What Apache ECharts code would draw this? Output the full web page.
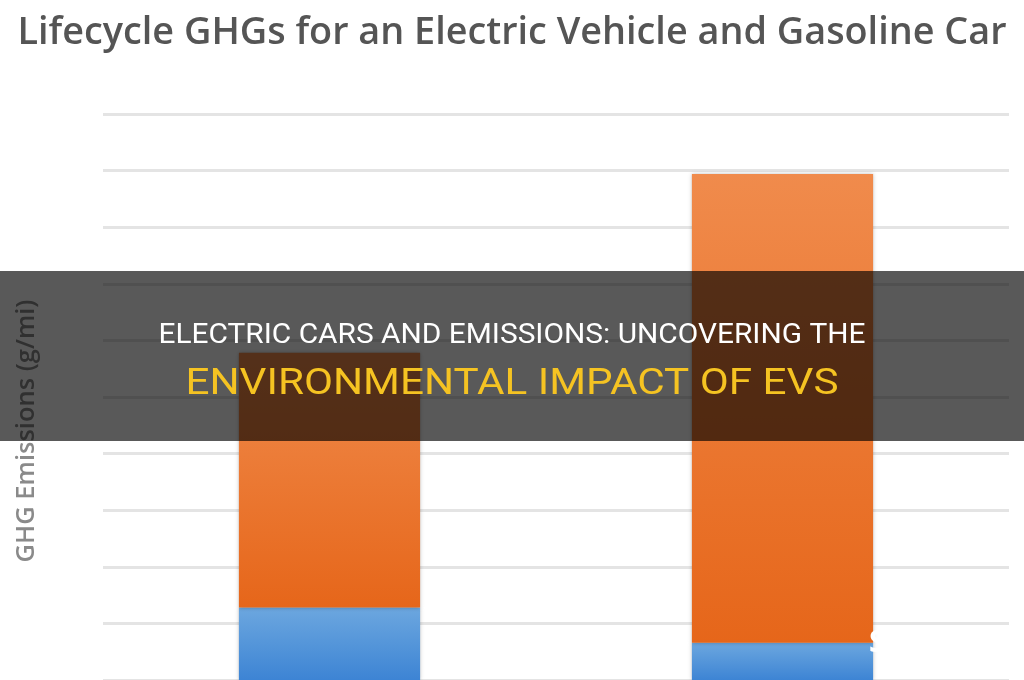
<!DOCTYPE html>
<html>
<head>
<meta charset="utf-8">
<script src="https://cdn.jsdelivr.net/npm/echarts@6/dist/echarts.min.js"></script>
<style>
  html, body { margin: 0; padding: 0; background: #fff; }
  #chart { width: 1024px; height: 680px; }
</style>
</head>
<body>
<div id="chart"></div>
<script>
// values (g/mi), gridline step 50
const categories = ['Electric Vehicle', 'Gasoline Car'];
const manufacturing = [64, 33];
const operation = [225, 414];
const yTicks = [0, 50, 100, 150, 200, 250, 300, 350, 400, 450, 500];

const chart = echarts.init(document.getElementById('chart'));

const grad = (top, bottom) => new echarts.graphic.LinearGradient(0, 0, 0, 1, [
  { offset: 0, color: top },
  { offset: 1, color: bottom }
]);

// fit a line of text to the width it has in the picture
const ctx = document.createElement('canvas').getContext('2d');
function squeeze(text, font, target) {
  ctx.font = font;
  return target / ctx.measureText(text).width;
}
const bannerFont = 'Roboto, "Liberation Sans", sans-serif';
const line1 = 'ELECTRIC CARS AND EMISSIONS: UNCOVERING THE';
const line2 = 'ENVIRONMENTAL IMPACT OF EVS';
const s1 = squeeze(line1, '27px Roboto', 707);
const s2 = squeeze(line2, '36px Roboto', 653);

const titleText = 'Lifecycle GHGs for an Electric Vehicle and Gasoline Car';
const sT = squeeze(titleText, '600 38px "Open Sans"', 989);

const option = {
  animation: false,
  grid: {
    left: 103,
    right: 15,
    top: 114,
    bottom: -4 // the x axis sits just below the visible area
  },
  xAxis: {
    type: 'category',
    data: categories,
    axisLine: { show: false },
    axisTick: { show: false },
    axisLabel: { show: false }
  },
  yAxis: {
    type: 'value',
    min: yTicks[0],
    max: yTicks[yTicks.length - 1],
    interval: 50,
    axisLine: { show: false },
    axisTick: { show: false },
    axisLabel: { show: false },
    splitLine: {
      lineStyle: { color: '#e4e4e4', width: 3 }
    }
  },
  series: [
    {
      name: 'Manufacturing',
      type: 'bar',
      stack: 'ghg',
      barWidth: '40%',
      data: manufacturing,
      itemStyle: {
        color: grad('#6ca7df', '#3d84d4'),
        shadowBlur: 4,
        shadowColor: 'rgba(0,0,0,0.25)'
      }
    },
    {
      name: 'Operation',
      type: 'bar',
      stack: 'ghg',
      barWidth: '40%',
      data: operation,
      itemStyle: {
        color: grad('#f08b4c', '#e6661a'),
        shadowBlur: 4,
        shadowColor: 'rgba(0,0,0,0.25)'
      }
    }
  ],
  graphic: [
    {
      type: 'text',
      z: 1,
      x: 512,
      y: 33,
      scaleX: sT,
      style: {
        text: titleText,
        fontFamily: 'Open Sans',
        fontSize: 38,
        fontWeight: 600,
        fill: '#555',
        align: 'center',
        verticalAlign: 'middle'
      }
    },
    {
      type: 'text',
      z: 1,
      x: 27,
      y: 431,
      rotation: Math.PI / 2,
      style: {
        text: 'GHG Emissions (g/mi)',
        fontFamily: 'Open Sans',
        fontSize: 25.5,
        fontWeight: 600,
        fill: '#8a8a8a',
        align: 'center',
        verticalAlign: 'middle'
      }
    },
    {
      // dark banner over the chart
      type: 'rect',
      z: 10,
      shape: { x: 0, y: 271, width: 1024, height: 170 },
      style: { fill: 'rgba(0,0,0,0.65)' }
    },
    {
      type: 'text',
      z: 11,
      x: 512,
      y: 336,
      scaleX: s1,
      style: {
        text: line1,
        fontFamily: bannerFont,
        fontSize: 27,
        fill: '#ffffff',
        align: 'center',
        verticalAlign: 'middle'
      }
    },
    {
      type: 'text',
      z: 11,
      x: 512,
      y: 385,
      scaleX: s2,
      style: {
        text: line2,
        fontFamily: bannerFont,
        fontSize: 36,
        fill: '#f5c322',
        align: 'center',
        verticalAlign: 'middle'
      }
    },
    {
      type: 'text',
      z: 12,
      x: 869,
      y: 643,
      style: {
        text: 'S',
        fontFamily: 'Open Sans',
        fontSize: 30,
        fontWeight: 'bold',
        fill: '#ffffff',
        verticalAlign: 'middle'
      }
    }
  ]
};

chart.setOption(option);
</script>
</body>
</html>
